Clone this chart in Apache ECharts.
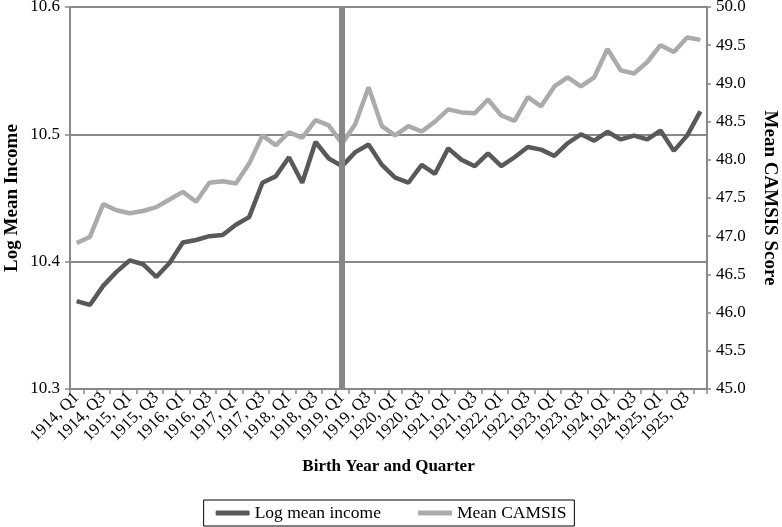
<!DOCTYPE html>
<html>
<head>
<meta charset="utf-8">
<script src="https://cdn.jsdelivr.net/npm/echarts@6/dist/echarts.min.js"></script>
<style>
html,body{margin:0;padding:0;background:#fff;}
#c{width:782px;height:527px;}
</style>
</head>
<body>
<div id="c"></div>
<script>
var years = [1914,1915,1916,1917,1918,1919,1920,1921,1922,1923,1924,1925];
var quarters = ['Q1','Q2','Q3','Q4'];
var categories = [];
years.forEach(function(y){ quarters.forEach(function(q){ categories.push(y + ', ' + q); }); });

var logMeanIncome = [
  10.369,10.366,10.381,10.392,10.401,10.398,10.388,10.399,
  10.415,10.417,10.420,10.421,10.429,10.435,10.462,10.467,
  10.482,10.462,10.494,10.481,10.475,10.486,10.492,10.476,
  10.466,10.462,10.476,10.469,10.489,10.480,10.475,10.485,
  10.475,10.482,10.490,10.488,10.483,10.493,10.500,10.495,
  10.502,10.496,10.499,10.496,10.503,10.487,10.499,10.518
];
var meanCamsis = [
  46.91,46.99,47.42,47.34,47.30,47.33,47.38,47.48,
  47.58,47.45,47.70,47.72,47.69,47.95,48.32,48.19,
  48.36,48.29,48.52,48.45,48.21,48.47,48.95,48.44,
  48.32,48.44,48.37,48.50,48.66,48.62,48.61,48.79,
  48.58,48.51,48.82,48.70,48.96,49.08,48.96,49.08,
  49.45,49.17,49.13,49.28,49.50,49.41,49.60,49.57
];
var leftTicks = [10.3, 10.6, 0.1];
var rightTicks = [45, 50, 0.5];
var markerCategory = '1919, Q1';

var font = "'Liberation Serif','Times New Roman',serif";
var chart = echarts.init(document.getElementById('c'), null, {renderer:'canvas'});
chart.setOption({
  animation: false,
  textStyle: {fontFamily: font},
  grid: {left: 70, right: 75, top: 7, bottom: 138, containLabel: false, outerBoundsMode: 'none'},
  legend: {
    bottom: 1, left: 'center',
    data: ['Log mean income','Mean CAMSIS'],
    borderColor: '#000', borderWidth: 1, borderRadius: 0,
    padding: [4, 8, 4, 12],
    itemGap: 37, itemWidth: 34, itemHeight: 5,
    icon: 'roundRect',
    textStyle: {fontFamily: font, fontSize: 17.5, color: '#000'}
  },
  xAxis: {
    type: 'category', data: categories, boundaryGap: true,
    name: 'Birth Year and Quarter', nameLocation: 'middle', nameGap: 69, nameMoveOverlap: false,
    nameTextStyle: {fontFamily: font, fontSize: 17, fontWeight: 'bold', color: '#000'},
    axisLine: {lineStyle: {color: '#888', width: 2}},
    axisTick: {show: true, interval: 0, length: 5, lineStyle: {color: '#888', width: 1.5}},
    axisLabel: {interval: 1, rotate: 45, fontFamily: font, fontSize: 16.5, color: '#000', margin: 6},
    splitLine: {show: false}
  },
  yAxis: [{
    type: 'value', min: leftTicks[0], max: leftTicks[1], interval: leftTicks[2],
    name: 'Log Mean Income', nameLocation: 'middle', nameGap: 48, nameRotate: 90, nameMoveOverlap: false,
    nameTextStyle: {fontFamily: font, fontSize: 19, fontWeight: 'bold', color: '#000'},
    axisLine: {show: true, lineStyle: {color: '#888', width: 2}},
    axisTick: {show: true, length: 5, lineStyle: {color: '#888', width: 1.5}},
    axisLabel: {fontFamily: font, fontSize: 17, color: '#000', margin: 10,
      formatter: function(v){ return v.toFixed(1); }},
    splitLine: {show: true, lineStyle: {color: '#888', width: 2}}
  },{
    type: 'value', min: rightTicks[0], max: rightTicks[1], interval: rightTicks[2],
    position: 'right',
    name: 'Mean CAMSIS Score', nameLocation: 'middle', nameGap: 53, nameRotate: -90, nameMoveOverlap: false,
    nameTextStyle: {fontFamily: font, fontSize: 19, fontWeight: 'bold', color: '#000'},
    axisLine: {show: true, lineStyle: {color: '#888', width: 2}},
    axisTick: {show: true, length: 4, lineStyle: {color: '#888', width: 1.5}},
    axisLabel: {fontFamily: font, fontSize: 17, color: '#000', margin: 9,
      formatter: function(v){ return v.toFixed(1); }},
    splitLine: {show: false}
  }],
  series: [{
    name: 'Log mean income', type: 'line', yAxisIndex: 0, data: logMeanIncome,
    symbol: 'none', color: '#595959', lineStyle: {width: 4.5, color: '#595959'}, z: 3,
    markLine: {
      silent: true, symbol: 'none', label: {show: false},
      lineStyle: {color: '#888', width: 6, type: 'solid'},
      data: [{xAxis: markerCategory}]
    }
  },{
    name: 'Mean CAMSIS', type: 'line', yAxisIndex: 1, data: meanCamsis,
    symbol: 'none', color: '#ababab', lineStyle: {width: 4.5, color: '#ababab'}, z: 2
  }]
});
</script>
</body>
</html>
